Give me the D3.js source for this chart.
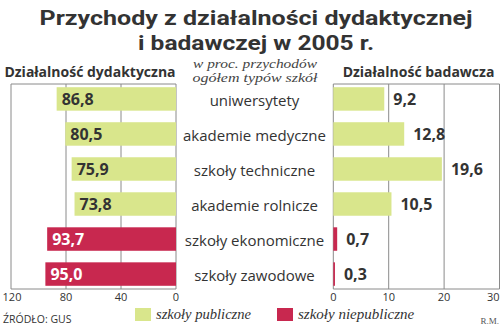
<!DOCTYPE html>
<html><head><meta charset="utf-8">
<script src="https://cdn.jsdelivr.net/npm/d3@7"></script>
<style>body{margin:0;background:#fff}svg{display:block}</style>
</head><body>
<svg id="c" width="500" height="326"></svg>
<script>
const categories = ["uniwersytety","akademie medyczne","szkoły techniczne","akademie rolnicze","szkoły ekonomiczne","szkoły zawodowe"];
const teaching = [86.8, 80.5, 75.9, 73.8, 93.7, 95.0];
const research = [9.2, 12.8, 19.6, 10.5, 0.7, 0.3];
const sector = ["pub","pub","pub","pub","npub","npub"];
const leftTicks = [120, 80, 40, 0];
const rightTicks = [0, 10, 20, 30];
const legendItems = [{key:"pub", label:"szkoły publiczne"},{key:"npub", label:"szkoły niepubliczne"}];

const colors = {pub:"#d9e68c", npub:"#c8284f"};
const textCol = "#333";
const gridCol = "#8a8a8a";
const sans = "'Open Sans', 'Noto Sans', sans-serif";
const titleFont = "Roboto, 'Open Sans', sans-serif";
const serif = "'Liberation Serif', 'DejaVu Serif', serif";

const svg = d3.select("#c");
const yTop = 84, yBottom = 289;

const y = d3.scaleBand().domain(categories).range([83, 290]).paddingInner(0.33).paddingOuter(0.12);
const xL = d3.scaleLinear().domain([0, 120]).range([176, 11]);
const xR = d3.scaleLinear().domain([0, 30]).range([333.3, 499.5]);

function fit(sel, w){ sel.each(function(){ const l=this.getComputedTextLength(); if(l>w){ d3.select(this).attr("textLength", w).attr("lengthAdjust","spacingAndGlyphs"); } }); return sel; }
function setLen(sel, w){ sel.attr("textLength", w).attr("lengthAdjust","spacingAndGlyphs"); return sel; }

// Title
svg.append("text").attr("x",256).attr("y",25).attr("text-anchor","middle")
  .attr("font-family",titleFont).attr("font-weight","bold").attr("font-size",21).attr("fill",textCol)
  .text("Przychody z działalności dydaktycznej").call(setLen, 433);
svg.append("text").attr("x",256).attr("y",50).attr("text-anchor","middle")
  .attr("font-family",titleFont).attr("font-weight","bold").attr("font-size",21).attr("fill",textCol)
  .text("i badawczej w 2005 r.").call(setLen, 236);

// Panel headers
svg.append("text").attr("x",90).attr("y",77).attr("text-anchor","middle")
  .attr("font-family",sans).attr("font-weight","bold").attr("font-size",14).attr("fill",textCol)
  .text("Działalność dydaktyczna").call(fit, 174);
svg.append("text").attr("x",418.5).attr("y",77).attr("text-anchor","middle")
  .attr("font-family",sans).attr("font-weight","bold").attr("font-size",14).attr("fill",textCol)
  .text("Działalność badawcza").call(fit, 157);

// Subtitle
svg.append("text").attr("x",255).attr("y",68).attr("text-anchor","middle")
  .attr("font-family",serif).attr("font-style","italic").attr("font-size",12.5).attr("fill","#444")
  .text("w proc. przychodów").call(setLen,124);
svg.append("text").attr("x",255).attr("y",82).attr("text-anchor","middle")
  .attr("font-family",serif).attr("font-style","italic").attr("font-size",12.5).attr("fill","#444")
  .text("ogółem typów szkół").call(setLen,125);

// Left panel grid
const gl = svg.append("g");
gl.selectAll("line.v").data(leftTicks).join("line")
  .attr("x1",d=>xL(d)).attr("x2",d=>xL(d)).attr("y1",yTop).attr("y2",yBottom)
  .attr("stroke",gridCol).attr("stroke-width",1);
gl.append("line").attr("x1",xL(120)).attr("x2",xL(0)).attr("y1",yTop).attr("y2",yTop).attr("stroke",gridCol);
gl.append("line").attr("x1",xL(120)).attr("x2",xL(0)).attr("y1",yBottom).attr("y2",yBottom).attr("stroke",gridCol);
gl.selectAll("text").data(leftTicks).join("text")
  .attr("x",d=>xL(d)+(d===120?1:0)).attr("y",301).attr("text-anchor","middle")
  .attr("font-family",sans).attr("font-size",11).attr("fill",textCol).text(d=>d);

// Right panel grid
const gr = svg.append("g");
gr.selectAll("line.v").data(rightTicks).join("line")
  .attr("x1",d=>xR(d)).attr("x2",d=>xR(d)).attr("y1",yTop).attr("y2",yBottom)
  .attr("stroke",gridCol).attr("stroke-width",1);
gr.append("line").attr("x1",xR(0)).attr("x2",xR(30)).attr("y1",yTop).attr("y2",yTop).attr("stroke",gridCol);
gr.append("line").attr("x1",xR(0)).attr("x2",xR(30)).attr("y1",yBottom).attr("y2",yBottom).attr("stroke",gridCol);
gr.selectAll("text").data(rightTicks).join("text")
  .attr("x",d=>xR(d)).attr("y",301).attr("text-anchor",d=>d===30?"end":"middle")
  .attr("font-family",sans).attr("font-size",11).attr("fill",textCol).text(d=>d);

// Left bars
const rowsL = categories.map((c,i)=>({c, v:teaching[i], s:sector[i]}));
svg.append("g").selectAll("rect").data(rowsL).join("rect")
  .attr("x",d=>xL(d.v)).attr("y",d=>y(d.c)).attr("width",d=>xL(0)-xL(d.v)).attr("height",y.bandwidth())
  .attr("fill",d=>colors[d.s]);
svg.append("g").selectAll("text").data(rowsL).join("text")
  .attr("x",d=>xL(d.v)+5).attr("y",d=>y(d.c)+y.bandwidth()/2).attr("dy","0.36em")
  .attr("font-family",sans).attr("font-weight","bold").attr("font-size",16)
  .attr("fill",d=>d.s==="npub"?"#fff":textCol)
  .text(d=>d3.format(".1f")(d.v).replace(".",","));

// Right bars
const rowsR = categories.map((c,i)=>({c, v:research[i], s:sector[i]}));
svg.append("g").selectAll("rect").data(rowsR).join("rect")
  .attr("x",xR(0)).attr("y",d=>y(d.c)).attr("width",d=>xR(d.v)-xR(0)).attr("height",y.bandwidth())
  .attr("fill",d=>colors[d.s]);
svg.append("g").selectAll("text").data(rowsR).join("text")
  .attr("x",d=>xR(d.v)+9).attr("y",d=>y(d.c)+y.bandwidth()/2).attr("dy","0.36em")
  .attr("font-family",sans).attr("font-weight","bold").attr("font-size",16).attr("fill",textCol)
  .text(d=>d3.format(".1f")(d.v).replace(".",","));

// Category labels
svg.append("g").selectAll("text").data(categories).join("text")
  .attr("x",254.5).attr("y",d=>y(d)+y.bandwidth()/2+2).attr("dy","0.36em").attr("text-anchor","middle")
  .attr("font-family",sans).attr("font-size",15).attr("fill",textCol).text(d=>d).call(fit,148);

// Legend
const legX = [135, 277];
const legW = [95, 123];
const lg = svg.append("g").selectAll("g").data(legendItems).join("g")
  .attr("transform",(d,i)=>`translate(${legX[i]},0)`);
lg.append("rect").attr("x",0).attr("y",308).attr("width",16).attr("height",13).attr("fill",d=>colors[d.key]);
lg.append("text").attr("x",21).attr("y",319).attr("font-family",serif).attr("font-style","italic")
  .attr("font-size",15).attr("fill",textCol).text(d=>d.label)
  .each(function(d,i){ d3.select(this).call(fit, legW[i]); });

// Source & credit
svg.append("text").attr("x",3).attr("y",323).attr("font-family",sans).attr("font-size",10.5).attr("fill",textCol)
  .text("ŹRÓDŁO: GUS").call(fit,69);
svg.append("text").attr("x",499).attr("y",324).attr("text-anchor","end").attr("font-family",serif).attr("font-size",9).attr("fill","#555")
  .text("R.M.");
</script>
</body></html>
